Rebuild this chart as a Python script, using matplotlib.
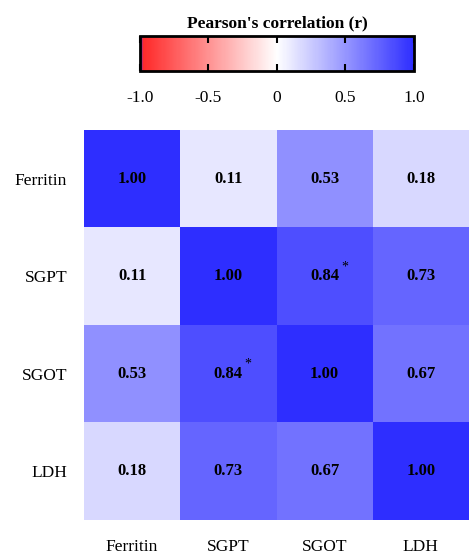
import matplotlib.pyplot as plt
import numpy as np
from matplotlib.colors import LinearSegmentedColormap

labels = ["Ferritin", "SGPT", "SGOT", "LDH"]
corr = [[1.00, 0.11, 0.53, 0.18],
        [0.11, 1.00, 0.84, 0.73],
        [0.53, 0.84, 1.00, 0.67],
        [0.18, 0.73, 0.67, 1.00]]
stars = [["", "", "", ""],
         ["", "", "*", ""],
         ["", "*", "", ""],
         ["", "", "", ""]]
cbar_ticks = [-1.0, -0.5, 0, 0.5, 1.0]
cbar_ticklabels = ["-1.0", "-0.5", "0", "0.5", "1.0"]

plt.rcParams['font.family'] = ['Liberation Serif', 'DejaVu Serif']

cmap = LinearSegmentedColormap.from_list(
    "rwb", [(0.0, "#6a2ad0"), (0.012, "#ff2a2a"), (0.5, "#ffffff"), (1.0, "#2e2eff")])

fig = plt.figure(figsize=(4.69, 5.54), dpi=100)

# heatmap
ax = fig.add_axes([0.179, 0.0614, 0.821, 0.7036])
data = np.array(corr)
im = ax.imshow(data, cmap=cmap, vmin=-1, vmax=1, aspect='auto')
for i in range(len(labels)):
    for j in range(len(labels)):
        ax.text(j, i, "%.2f" % data[i, j], ha='center', va='center',
                fontsize=12, fontweight='bold', color='black')
        if stars[i][j]:
            ax.text(j + 0.17, i - 0.1, stars[i][j], ha='left', va='center',
                    fontsize=10, color='black')
ax.set_xticks(range(len(labels)))
ax.set_xticklabels(labels, fontsize=12.5)
ax.set_yticks(range(len(labels)))
ax.set_yticklabels(labels, fontsize=12.5)
ax.tick_params(length=0, pad=14)
ax.tick_params(axis='y', pad=12)
for s in ax.spines.values():
    s.set_visible(False)

# colorbar
cax = fig.add_axes([0.2985, 0.872, 0.584, 0.063])
cb = fig.colorbar(im, cax=cax, orientation='horizontal')
cb.set_ticks(cbar_ticks)
cb.set_ticklabels(cbar_ticklabels)
cb.outline.set_linewidth(2)
cax.tick_params(axis='x', direction='in', length=5, width=1.5, pad=14,
                labelsize=12.5, top=True)
cax.set_title("Pearson's correlation (r)", fontsize=12.5, fontweight='bold', pad=6)

fig.savefig("out.png", dpi=100)
